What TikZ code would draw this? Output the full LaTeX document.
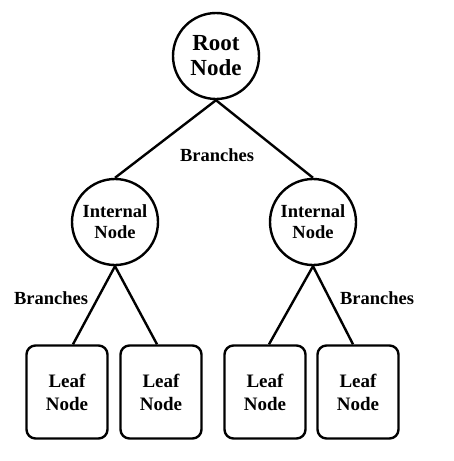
\documentclass[tikz,border=0pt]{standalone}
\usepackage{fontspec}
\setmainfont{Liberation Serif}
\usepackage{tikz}
\usetikzlibrary{positioning}

\begin{document}
\begin{tikzpicture}[x=1pt, y=-1pt, line width=2.4pt,
  treenode/.style={draw, circle, minimum size=86pt, inner sep=0pt, align=center,
                   font=\bfseries\fontsize{18.5}{21}\selectfont},
  leafnode/.style={draw, rounded corners=9pt, minimum width=81pt, minimum height=93pt,
                   inner sep=0pt, align=center, font=\bfseries\fontsize{19}{23}\selectfont},
  brlabel/.style={font=\bfseries\fontsize{18.5}{21}\selectfont, inner sep=0pt}]
  \useasboundingbox (0,0) rectangle (454,461);
  % Root
  \node[treenode, font=\bfseries\fontsize{23}{25}\selectfont] (root) at (216,56) {Root\\Node};
  % Internal nodes
  \node[treenode] (intl) at (115,222) {Internal\\Node};
  \node[treenode] (intr) at (313,222) {Internal\\Node};
  % Leaves
  \node[leafnode] (leafa) at (67,392) {Leaf\\Node};
  \node[leafnode] (leafb) at (161,392) {Leaf\\Node};
  \node[leafnode] (leafc) at (265,392) {Leaf\\Node};
  \node[leafnode] (leafd) at (358,392) {Leaf\\Node};
  % Branches
  \draw (root.south) -- (intl.north);
  \draw (root.south) -- (intr.north);
  \draw (intl.south) -- ([xshift=6pt]leafa.north);
  \draw (intl.south) -- ([xshift=-4pt]leafb.north);
  \draw (intr.south) -- ([xshift=4pt]leafc.north);
  \draw (intr.south) -- ([xshift=-5pt]leafd.north);
  \node[brlabel] (brtop) at (217,155) {Branches};
  \node[brlabel] (brleft) at (51,298) {Branches};
  \node[brlabel] (brright) at (377,298) {Branches};
\end{tikzpicture}
\end{document}
